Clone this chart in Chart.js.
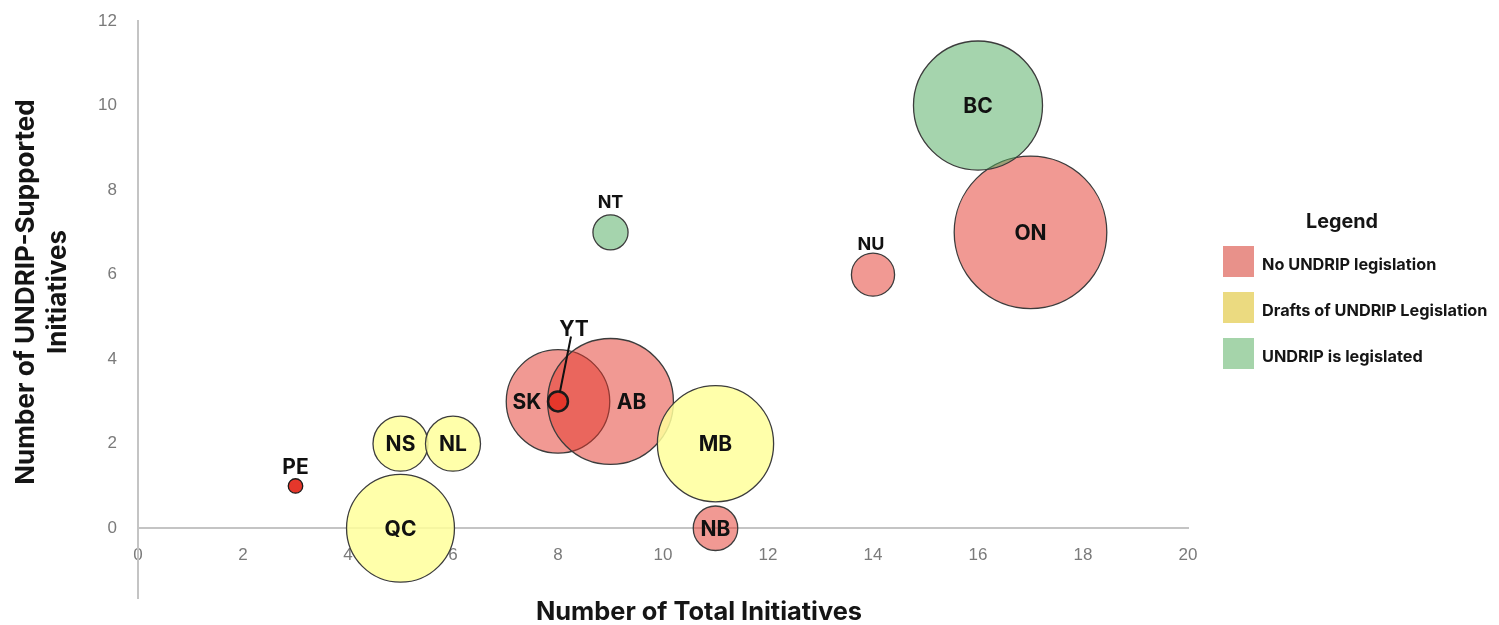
<!DOCTYPE html>
<html>
<head>
<meta charset="utf-8">
<script src="https://cdn.jsdelivr.net/npm/chart.js@4.4.1/dist/chart.umd.min.js"></script>
<style>
  html, body { margin: 0; padding: 0; background: #ffffff; }
  #wrap { position: relative; width: 1499px; height: 625px; }
</style>
</head>
<body>
<div id="wrap"><canvas id="chart" width="1499" height="625"></canvas></div>
<script>
// Provinces and territories
const provinces         = ['BC', 'ON', 'NU', 'NT', 'SK', 'AB', 'YT', 'MB', 'NS', 'NL', 'QC', 'NB', 'PE'];
const totalInitiatives  = [16,   17,   14,   9,    8,    9,    8,    11,   5,    6,    5,    11,   3];
const undripInitiatives = [10,   7,    6,    7,    3,    3,    3,    2,    2,    2,    0,    0,    1];
// Relative bubble size (largest = 100)
const bubbleSize        = [71.5, 100,  8,    5.3,  46,   68,   1.7,  58,   13,   13,   50,   8.5,  0.9];
// Legislation status: 0 = none, 1 = drafts, 2 = legislated
const legislationStatus = [2,    0,    0,    2,    0,    0,    0,    1,    1,    1,    1,    0,    0];

const statusLabels = ['No UNDRIP legislation', 'Drafts of UNDRIP Legislation', 'UNDRIP is legislated'];
const xTicks = [0, 2, 4, 6, 8, 10, 12, 14, 16, 18, 20];
const yTicks = [0, 2, 4, 6, 8, 10, 12];

const xTitle = 'Number of Total Initiatives';
const yTitle = ['Number of UNDRIP-Supported', 'Initiatives'];

// Styling
const bubbleFill   = ['rgba(228, 52, 40, 0.5)', 'rgba(255, 255, 155, 0.85)', 'rgba(76, 170, 92, 0.5)'];
const drawOrder    = [2, 0, 1];   // lower value is painted on top
const swatchFill   = ['#e8918a', '#ebda80', '#a5d4aa'];
const markerFill   = '#e5372b';
const markerIds    = ['YT', 'PE'];
const labelFont    = '"Inter", "DejaVu Sans", sans-serif';
const labelOffset  = { NT: [0, -31], NU: [-2, -31], PE: [0, -19], YT: [16, -73], SK: [-31, 0], AB: [21, 0] };
const labelSize    = { NT: 18, NU: 18 };

function sizeToRadius(s) { return 7.63 * Math.sqrt(s); }

const datasets = statusLabels.map((label, k) => {
  const idx = provinces.map((p, i) => i).filter(i => legislationStatus[i] === k);
  return {
    label: label,
    order: drawOrder[k],
    data: idx.map(i => ({ x: totalInitiatives[i], y: undripInitiatives[i], r: sizeToRadius(bubbleSize[i]), id: provinces[i] })),
    backgroundColor: ctx => markerIds.includes(ctx.raw && ctx.raw.id) ? markerFill : bubbleFill[k],
    borderColor: ctx => markerIds.includes(ctx.raw && ctx.raw.id) ? '#1a1a1a' : '#3c3c3c',
    borderWidth: ctx => (ctx.raw && ctx.raw.id === 'YT') ? 2.5 : 1.3,
    clip: false
  };
});

const noPadding = scale => {
  scale.paddingLeft = 0; scale.paddingRight = 0; scale.paddingTop = 0; scale.paddingBottom = 0;
};

// Bubble name labels
const bubbleLabels = {
  id: 'bubbleLabels',
  afterDatasetsDraw(chart) {
    const ctx = chart.ctx;
    ctx.save();
    ctx.textAlign = 'center';
    ctx.textBaseline = 'middle';
    ctx.fillStyle = '#111111';
    chart.data.datasets.forEach((ds, di) => {
      const meta = chart.getDatasetMeta(di);
      meta.data.forEach((el, j) => {
        const id = ds.data[j].id;
        const off = labelOffset[id] || [0, 0];
        const size = labelSize[id] || 21;
        ctx.font = '700 ' + size + 'px ' + labelFont;
        const lx = el.x + off[0], ly = el.y + off[1];
        if (id === 'YT') {
          // leader line from the marker up to its label
          const dx = off[0] - 3, dy = off[1] + 8;
          const len = Math.hypot(dx, dy);
          const r = el.options.radius;
          ctx.beginPath();
          ctx.strokeStyle = '#111111';
          ctx.lineWidth = 2;
          ctx.moveTo(el.x + dx / len * r, el.y + dy / len * r);
          ctx.lineTo(el.x + dx, el.y + dy);
          ctx.stroke();
        }
        ctx.fillText(id, lx, ly + 1);
      });
    });
    ctx.restore();
  }
};

// Axis titles and legend panel
const decorations = {
  id: 'decorations',
  afterDraw(chart) {
    const ctx = chart.ctx;
    const area = chart.chartArea;
    ctx.save();
    ctx.fillStyle = '#151515';
    ctx.textAlign = 'center';
    ctx.textBaseline = 'middle';
    ctx.font = '700 25.4px ' + labelFont;
    ctx.fillText(xTitle, 699, 612);

    ctx.save();
    ctx.translate(0, 292);
    ctx.rotate(-Math.PI / 2);
    ctx.font = '700 26px ' + labelFont;
    ctx.fillText(yTitle[0], 0, 26);
    ctx.fillText(yTitle[1], 0, 58);
    ctx.restore();

    // legend
    const lx = area.right + 35;
    ctx.font = '700 19.8px ' + labelFont;
    ctx.fillText('Legend', lx + 119, 222);
    ctx.textAlign = 'left';
    ctx.font = '700 16.3px ' + labelFont;
    statusLabels.forEach((label, k) => {
      const top = 246 + k * 46;
      ctx.fillStyle = swatchFill[k];
      ctx.fillRect(lx, top, 31, 31);
      ctx.fillStyle = '#151515';
      ctx.fillText(label, lx + 39, top + 19);
    });
    ctx.restore();
  }
};

Chart.defaults.font.family = '"Liberation Sans", Arial, sans-serif';

new Chart(document.getElementById('chart'), {
  type: 'bubble',
  data: { datasets: datasets },
  options: {
    responsive: false,
    animation: false,
    events: [],
    layout: { autoPadding: false, padding: { top: 21, right: 311, bottom: 27, left: 0 } },
    plugins: {
      legend: { display: false },
      tooltip: { enabled: false },
      title: { display: false }
    },
    scales: {
      x: {
        type: 'linear',
        position: { y: 0 },
        min: 0,
        max: 20,
        afterFit: s => { noPadding(s); s.height = 0; },
        afterBuildTicks: s => { s.ticks = xTicks.map(v => ({ value: v })); },
        grid: { display: false, drawTicks: false, z: -1 },
        border: { display: true, color: '#c4c4c4', width: 2 },
        ticks: { color: '#7a7a7a', font: { size: 17 }, padding: 17, maxRotation: 0 }
      },
      y: {
        type: 'linear',
        min: -1.65,
        max: 12,
        afterFit: s => { noPadding(s); s.width = 138; },
        afterBuildTicks: s => { s.ticks = yTicks.map(v => ({ value: v })); },
        grid: { display: false, drawTicks: false, z: -1 },
        border: { display: true, color: '#c4c4c4', width: 2 },
        ticks: { color: '#7a7a7a', font: { size: 17 }, padding: 21 }
      }
    }
  },
  plugins: [bubbleLabels, decorations]
});
</script>
</body>
</html>
